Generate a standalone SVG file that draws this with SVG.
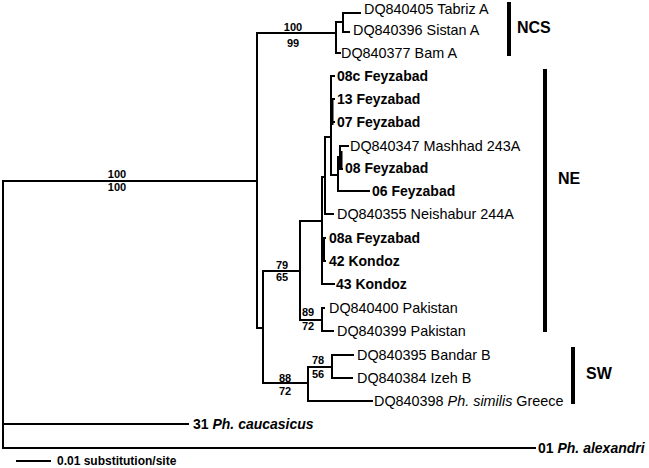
<svg xmlns="http://www.w3.org/2000/svg" width="649" height="468" viewBox="0 0 649 468">
<style>
.br{fill:none;stroke:#000;stroke-width:2;stroke-linecap:square}
.t{font-family:"Liberation Sans",Arial,sans-serif;font-size:14.4px;fill:#000}
.b{font-weight:bold;font-size:14px}
.i{font-style:italic}
.s{font-family:"Liberation Sans",Arial,sans-serif;font-size:11px;font-weight:bold;fill:#000;text-anchor:middle}
.cl{font-family:"Liberation Sans",Arial,sans-serif;font-size:16px;font-weight:bold;fill:#000}
.bar{fill:#000}
</style>
<rect width="649" height="468" fill="#fff"/>
<g id="connectors" class="br">
<path d="M3,181V448M3,181H257M3,424H188M3,448H535"/>
<path d="M257,33V328M257,33H336M336,22V53M336,22H343M343,13V32M343,13H360M343,32H349M336,53H340"/>
<path d="M257,328H263M263,271V383M263,271H300M300,221V320M300,221H322"/>
<path d="M322,177V284M324,238V261M322,238H325M322,261H325M322,284H334"/>
<path d="M322,177H325M325,137V214M325,214H333M325,137H331"/>
<path d="M331,76V175M332.5,99V124M331,76H334M331,99H334M331,122H334"/>
<path d="M331,175H338M338,157V191M338,191H369M338,157H340M340,146V169M341.5,152V167M340,146H348M340,169H342"/>
<path d="M300,320H322M322,308V331M322,308H324M322,331H333"/>
<path d="M263,383H308M308,367V401M308,367H332M332,355V378M332,355H353M332,378H352M308,401H372"/>
<path d="M17,461H50"/>
</g>
<g id="supports">
<text class="s" x="117" y="178">100</text><text class="s" x="117" y="191">100</text>
<text class="s" x="293" y="31">100</text><text class="s" x="293" y="47">99</text>
<text class="s" x="282" y="269">79</text><text class="s" x="282" y="281">65</text>
<text class="s" x="308" y="316">89</text><text class="s" x="308" y="330">72</text>
<text class="s" x="285" y="382">88</text><text class="s" x="285" y="395">72</text>
<text class="s" x="318" y="364">78</text><text class="s" x="318" y="378">56</text>
</g>
<g id="tabriz"><text class="t" x="364" y="14">DQ840405 Tabriz A</text></g>
<g id="sistan"><text class="t" x="353" y="35">DQ840396 Sistan A</text></g>
<g id="bam"><text class="t" x="341" y="58">DQ840377 Bam A</text></g>
<g id="f08c"><text class="t b" x="337" y="81">08c Feyzabad</text></g>
<g id="f13"><text class="t b" x="337" y="104">13 Feyzabad</text></g>
<g id="f07"><text class="t b" x="337" y="127">07 Feyzabad</text></g>
<g id="mashhad"><text class="t" x="350" y="151">DQ840347 Mashhad 243A</text></g>
<g id="f08"><text class="t b" x="345" y="173">08 Feyzabad</text></g>
<g id="f06"><text class="t b" x="372" y="196">06 Feyzabad</text></g>
<g id="neishabur"><text class="t" x="337" y="219">DQ840355 Neishabur 244A</text></g>
<g id="f08a"><text class="t b" x="329" y="243">08a Feyzabad</text></g>
<g id="k42"><text class="t b" x="329" y="266">42 Kondoz</text></g>
<g id="k43"><text class="t b" x="336" y="289">43 Kondoz</text></g>
<g id="pak400"><text class="t" x="329" y="313">DQ840400 Pakistan</text></g>
<g id="pak399"><text class="t" x="337" y="336">DQ840399 Pakistan</text></g>
<g id="bandar"><text class="t" x="357" y="360">DQ840395 Bandar B</text></g>
<g id="izeh"><text class="t" x="357" y="383">DQ840384 Izeh B</text></g>
<g id="greece"><text class="t" x="374" y="406">DQ840398 <tspan class="i">Ph. similis</tspan> Greece</text></g>
<g id="caucasicus"><text class="t b" x="193" y="429">31 <tspan class="i">Ph. caucasicus</tspan></text></g>
<g id="alexandri"><text class="t b" x="538" y="453">01 <tspan class="i">Ph. alexandri</tspan></text></g>
<g id="clade-NCS"><rect class="bar" x="507" y="2" width="4" height="54"/><text class="cl" x="517" y="33">NCS</text></g>
<g id="clade-NE"><rect class="bar" x="543" y="69" width="4" height="263"/><text class="cl" x="558" y="184">NE</text></g>
<g id="clade-SW"><rect class="bar" x="571" y="347" width="4" height="57"/><text class="cl" x="586" y="379">SW</text></g>
<g id="scale"><text class="t b" x="57" y="465" style="font-size:12px">0.01 substitution/site</text></g>
</svg>
